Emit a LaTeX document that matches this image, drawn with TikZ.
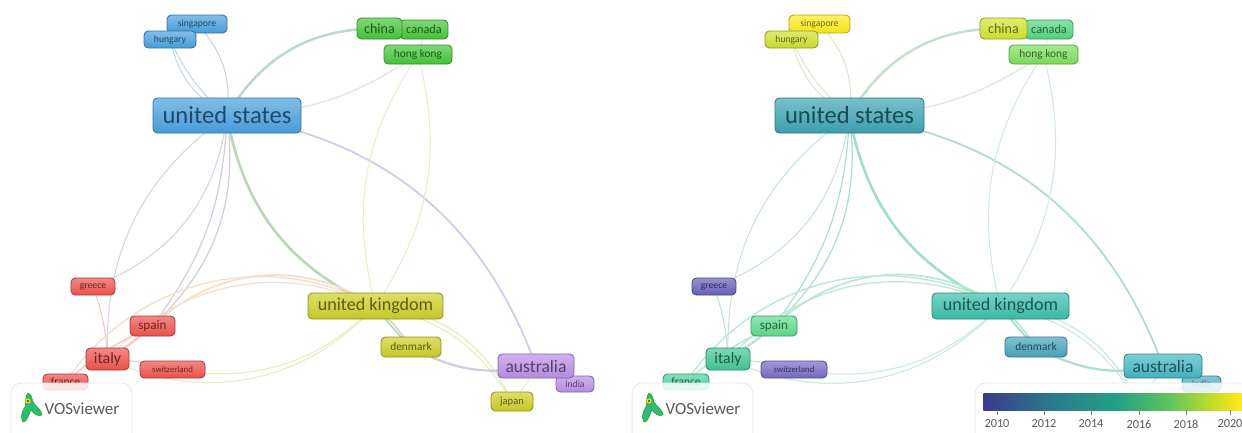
\documentclass[tikz,border=0pt]{standalone}
\usepackage{fontspec}
\setmainfont{Carlito}
\usetikzlibrary{backgrounds}

% cluster colours, left map
\definecolor{cblue}{HTML}{4AA2E0}
\definecolor{cgreen}{HTML}{48C83C}
\definecolor{cred}{HTML}{F05450}
\definecolor{cyellow}{HTML}{CED02A}
\definecolor{cpurple}{HTML}{BC90E8}
% year colours, right map
\definecolor{ysing}{HTML}{FFEB1E}
\definecolor{yhung}{HTML}{D0E030}
\definecolor{ychin}{HTML}{D2E632}
\definecolor{ycana}{HTML}{55D880}
\definecolor{yhong}{HTML}{80E060}
\definecolor{yus}{HTML}{3FA5B5}
\definecolor{ygree}{HTML}{6A62BE}
\definecolor{yspai}{HTML}{60DC90}
\definecolor{yital}{HTML}{45C898}
\definecolor{yfran}{HTML}{50D4A0}
\definecolor{yswit}{HTML}{7A6CC8}
\definecolor{yuk}{HTML}{3CC0AC}
\definecolor{yden}{HTML}{4AA6BE}
\definecolor{yaus}{HTML}{45B8C4}
\definecolor{yind}{HTML}{50B0C4}
% link colours, l = left map, r = right map
\definecolor{lusa}{HTML}{C4D6E6}
\definecolor{lchin}{HTML}{BAD9C6}
\definecolor{lhong}{HTML}{DDEBD8}
\definecolor{luk}{HTML}{BDD6B8}
\definecolor{lsky}{HTML}{D4D4E2}
\definecolor{llav}{HTML}{CFCBEC}
\definecolor{lsand}{HTML}{F4DFCC}
\definecolor{lpale}{HTML}{E8EDC8}
\definecolor{lmauve}{HTML}{D6CCDC}
\definecolor{lrose}{HTML}{F2C8C4}
\definecolor{rusa}{HTML}{DCE6CC}
\definecolor{rchin}{HTML}{C4E0CC}
\definecolor{rhong}{HTML}{DCEAD8}
\definecolor{ruk}{HTML}{A4DCD0}
\definecolor{rsky}{HTML}{C8E2E0}
\definecolor{rlav}{HTML}{B4D8D4}
\definecolor{rsand}{HTML}{BCE6D6}
\definecolor{rpale}{HTML}{D0EADF}
\definecolor{rmauve}{HTML}{ACE0D2}
\definecolor{rrose}{HTML}{B8E6D4}
% colour bar stops
\definecolor{bara}{HTML}{3B3A8C}
\definecolor{barb}{HTML}{2C7A8C}
\definecolor{barc}{HTML}{23A084}
\definecolor{bard}{HTML}{62C45C}
\definecolor{bare}{HTML}{B8DA2C}
\definecolor{barf}{HTML}{FFE81A}

% the part of a shading that fills the path is its middle, 25bp to 75bp
\pgfdeclarehorizontalshading{viridis}{100bp}{
  color(0bp)=(bara); color(25bp)=(bara); color(38bp)=(barb);
  color(50bp)=(barc); color(60bp)=(bard);
  color(67bp)=(bare); color(73bp)=(barf); color(100bp)=(barf)}

\tikzset{
  item/.style={draw=#1!70!black, rounded corners=2.5pt, line width=0.5pt,
    top color=#1!70!white, bottom color=#1!96!black, text=#1!45!black,
    inner sep=0pt, anchor=center},
  link/.style={line cap=round},
  logobox/.style={draw=black!10, fill=white, fill opacity=0.85, rounded corners=6pt, line width=0.4pt},
  tick/.style={font=\fontsize{7}{7}\selectfont, text=black!65},
}

\begin{document}
\begin{tikzpicture}[x=0.02cm,y=-0.02cm]
\useasboundingbox (0,0) rectangle (1242,433);

% --- left map: name / centre x / centre y / width / height / font size / colour / text
\foreach \n/\x/\y/\w/\h/\s/\c/\t in {
  sing/197/24/60/18/5.5/cblue/singapore,
  hung/170/39.5/52/17/5.5/cblue/hungary,
  cana/424/29.5/48/19/7/cgreen/canada,
  chin/379.5/28.5/45/21/8/cgreen/china,
  hong/418/54.5/68/19/6.5/cgreen/hong kong,
  us/227/115.5/148/35/14/cblue/united states,
  gree/93/286.5/44/17/5.5/cred/greece,
  spai/152.5/326/45/20/7.5/cred/spain,
  fran/65.5/382/45/16/6.5/cred/france,
  ital/107.5/359/43/22/9/cred/italy,
  swit/172.5/369.5/65/17/5/cred/switzerland,
  uk/375.5/306/135/26/10.3/cyellow/united kingdom,
  den/411/347/60/20/6.5/cyellow/denmark,
  ind/575/384/38/16/5.5/cpurple/india,
  aus/536/366/76/24/10/cpurple/australia,
  jap/512/401.5/42/19/6/cyellow/japan}
  \node[item=\c, minimum width=\w*0.02cm, minimum height=\h*0.02cm,
    font=\fontsize{\s}{\s}\selectfont] (l\n) at (\x,\y) {\t};

% --- right map
\foreach \n/\x/\y/\w/\h/\s/\c/\t in {
  sing/819.5/24/61/18/5.5/ysing/singapore,
  hung/791.5/39.5/53/17/5.5/yhung/hungary,
  cana/1049/29.5/48/19/7/ycana/canada,
  chin/1003.5/28.5/47/21/8/ychin/china,
  hong/1043.5/54.5/69/19/6.5/yhong/hong kong,
  us/849.5/115.5/149/35/14/yus/united states,
  gree/714/286.5/44/17/5.5/ygree/greece,
  spai/774/326/46/20/7.5/yspai/spain,
  fran/686/382/46/16/6.5/yfran/france,
  ital/728/359/44/22/9/yital/italy,
  swit/794/369.5/66/17/5/yswit/switzerland,
  uk/1000.5/306/137/26/10.3/yuk/united kingdom,
  den/1036/347/62/20/6.5/yden/denmark,
  ind/1201.5/384/39/16/5.5/yind/india,
  aus/1163/366/78/24/10/yaus/australia}
  \node[item=\c, minimum width=\w*0.02cm, minimum height=\h*0.02cm,
    font=\fontsize{\s}{\s}\selectfont] (r\n) at (\x,\y) {\t};
\coordinate (rjap) at (1137,401.5); % under the colour bar box

% --- links, behind the boxes: from / to / bend (left +, right -) / width / colour
\begin{scope}[on background layer]
\foreach \p in {l,r}
  \foreach \a/\b/\bd/\wd/\k in {
    sing/us/25/0.6/usa, hung/us/-12/0.6/usa, hung/us/-24/0.6/usa,
    us/chin/30/1.4/chin, us/hong/-16/0.8/hong,
    us/aus/31/1/lav, us/uk/-28/1.5/uk,
    us/gree/31/0.6/sky, us/ital/-28/0.6/sky,
    us/spai/17/0.7/mauve, us/spai/27/0.7/mauve,
    gree/ital/8/0.6/rose,
    uk/spai/-38/1/sand, uk/fran/-42/0.8/sand, uk/ital/-36/0.7/sand,
    uk/ital/36/0.7/pale, uk/swit/27/0.7/pale,
    hong/uk/-24/0.6/pale, hong/uk/24/0.6/pale,
    uk/den/-4/1/uk, uk/den/6/0.7/uk,
    uk/jap/30/0.8/pale, uk/jap/24/0.7/pale,
    den/aus/-20/1.3/mauve, aus/jap/8/0.6/pale,
    spai/ital/4/1.3/rose, spai/fran/-8/0.8/rose,
    ital/swit/6/0.6/rose, cana/hong/4/0.6/hong}
    \draw[link, draw=\p\k, line width=\wd pt] (\p\a.center) to[bend left=\bd] (\p\b.center);
\end{scope}

% --- logo panels
\foreach \p/\dx in {l/0, r/621} {
  \begin{scope}[shift={(\dx,0)}]
    \draw[logobox] (11,383) rectangle (132,445);
    \fill[teal!70!green!80, draw=green!70!black, line width=0.3pt]
      (28,393) .. controls (24,397) and (27,403) .. (25,407)
      .. controls (22,411) and (20,418) .. (23,422)
      .. controls (27,423) and (29,413) .. (31,410)
      .. controls (34,414) and (38,417) .. (42,415)
      .. controls (42,410) and (35,406) .. (33,402)
      .. controls (32,398) and (31,394) .. (28,393) -- cycle;
    \fill[yellow!80!orange] (28,401) circle (2.5);
    \fill[red!75!black] (28,401) circle (1.2);
    \node[font=\fontsize{9.7}{10}\selectfont, text=black!65] (\p logo) at (82,409) {VOSviewer};
  \end{scope}
}

% --- colour bar
\draw[logobox] (975,383) rectangle (1300,445);
\node[minimum width=267*0.02cm, minimum height=17*0.02cm, inner sep=0pt, anchor=north west,
  shading=viridis] (bar) at (983,393) {};
\foreach \xt/\yr in {997/2010, 1044/2012, 1091/2014, 1139/2016, 1186/2018, 1230/2020} {
  \coordinate (t\yr) at (\xt,410);
  \draw[black!50, line width=0.3pt] (t\yr) -- ++(0,5);
  \node[tick] (y\yr) at (\xt,424) {\yr};
}
\end{tikzpicture}
\end{document}
